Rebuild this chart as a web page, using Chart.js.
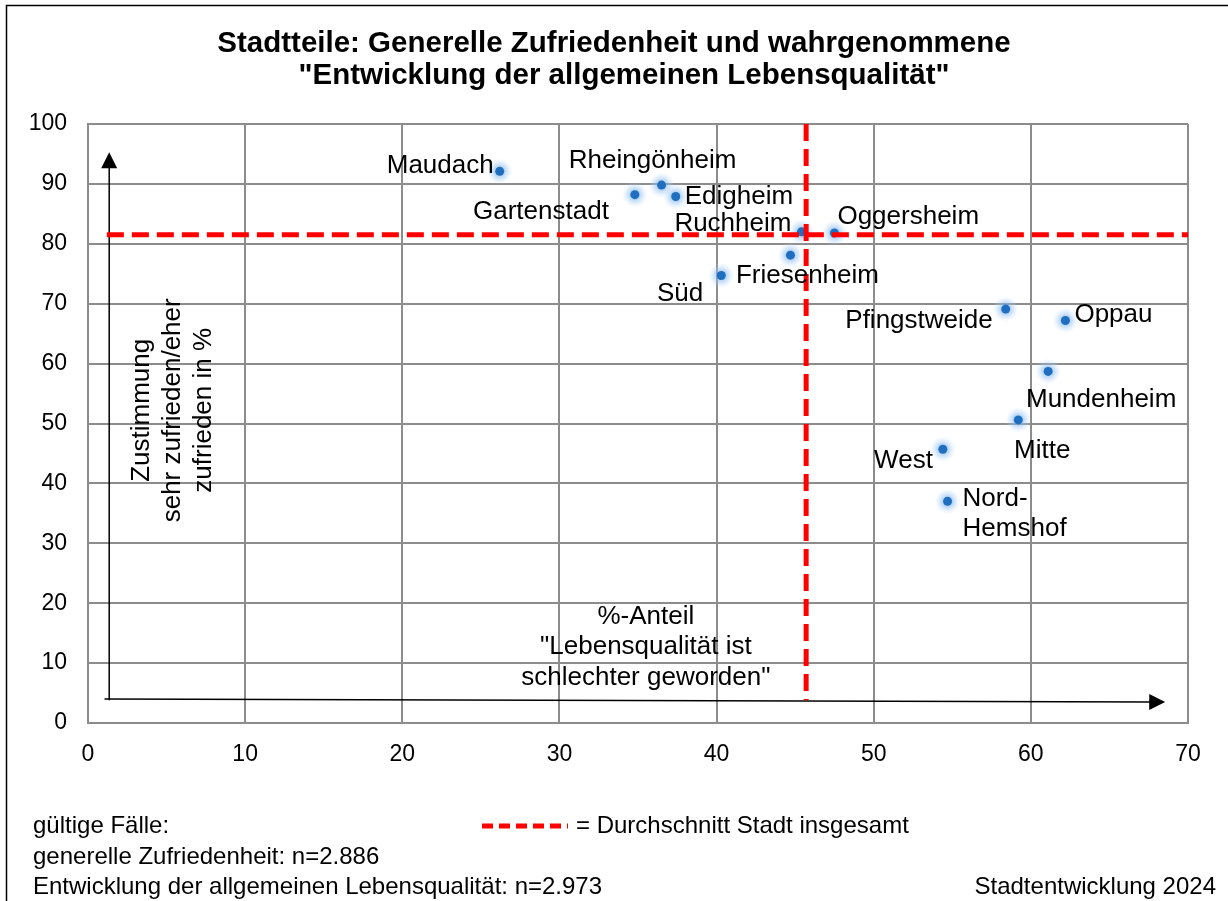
<!DOCTYPE html>
<html lang="de">
<head>
<meta charset="utf-8">
<title>Stadtteile: Generelle Zufriedenheit</title>
<script src="https://cdn.jsdelivr.net/npm/chart.js@4"></script>
<style>
  body { margin: 0; background: #fff; }
  #wrap { width: 1228px; height: 901px; }
</style>
</head>
<body>
<div id="wrap"><canvas id="chart" width="1228" height="901"></canvas></div>
<script>
// Data
const stadtteile = [
  "Maudach",
  "Gartenstadt",
  "Rheingönheim",
  "Edigheim",
  "Ruchheim",
  "Oggersheim",
  "Friesenheim",
  "Süd",
  "Pfingstweide",
  "Oppau",
  "Mundenheim",
  "Mitte",
  "West",
  "Nord-\nHemshof",
];
// %-Anteil "Lebensqualität ist schlechter geworden"
const schlechter = [26.2, 34.8, 36.5, 37.4, 45.4, 47.5, 44.7, 40.3, 58.4, 62.2, 61.1, 59.2, 54.4, 54.7];
// Zustimmung sehr zufrieden/eher zufrieden in %
const zufrieden = [92.1, 88.2, 89.8, 87.9, 82.0, 81.8, 78.1, 74.7, 69.1, 67.2, 58.7, 50.6, 45.7, 37.0];
// Durchschnitt Stadt insgesamt
const avgSchlechter = 45.7;
const avgZufrieden = 81.5;
const xTicks = [0, 10, 20, 30, 40, 50, 60, 70];
const yTicks = [0, 10, 20, 30, 40, 50, 60, 70, 80, 90, 100];

// label placement (pixel offset from the point + alignment)
const labelPlacement = [
  { dx: -6, dy: -5, align: "right" },
  { dx: -26, dy: 17, align: "right" },
  { dx: -9, dy: -24, align: "center" },
  { dx: 9, dy: 0, align: "left" },
  { dx: -10, dy: -8, align: "right" },
  { dx: 3, dy: -16, align: "left" },
  { dx: 17, dy: 21, align: "center" },
  { dx: -18, dy: 18, align: "right" },
  { dx: -13, dy: 12, align: "right" },
  { dx: 9, dy: -6, align: "left" },
  { dx: 53, dy: 28, align: "center" },
  { dx: 24, dy: 31, align: "center" },
  { dx: -10, dy: 12, align: "right" },
  { dx: 15, dy: -3, align: "left" },
];

const FONT = "'Liberation Sans', Arial, sans-serif";
Chart.defaults.font.family = FONT;
Chart.defaults.color = "#000";

const points = schlechter.map((x, i) => ({ x: x, y: zufrieden[i] }));

function arrowHead(ctx, x, y, angle) {
  ctx.save();
  ctx.translate(x, y);
  ctx.rotate(angle);
  ctx.beginPath();
  ctx.moveTo(0, 0);
  ctx.lineTo(-16, -8);
  ctx.lineTo(-16, 8);
  ctx.closePath();
  ctx.fill();
  ctx.restore();
}

const decorations = {
  id: "decorations",
  beforeDatasetsDraw(chart) {
    const { ctx, scales } = chart;
    const X = (v) => scales.x.getPixelForValue(v);
    const Y = (v) => scales.y.getPixelForValue(v);
    ctx.save();
    ctx.strokeStyle = "#000";
    ctx.fillStyle = "#000";
    ctx.lineWidth = 1.5;
    // vertical arrow
    ctx.beginPath();
    ctx.moveTo(X(1.35), Y(3.8));
    ctx.lineTo(X(1.35), Y(94));
    ctx.stroke();
    arrowHead(ctx, X(1.35), Y(95.3), -Math.PI / 2);
    // horizontal arrow
    const x0 = X(1.05), y0 = Y(4.0), x1 = X(68.55), y1 = Y(3.5);
    const ang = Math.atan2(y1 - y0, x1 - x0);
    ctx.beginPath();
    ctx.moveTo(x0, y0);
    ctx.lineTo(x1 - 14 * Math.cos(ang), y1 - 14 * Math.sin(ang));
    ctx.stroke();
    arrowHead(ctx, x1, y1, ang);

    // axis descriptions
    ctx.font = "26px " + FONT;
    ctx.textAlign = "center";
    ctx.textBaseline = "middle";
    const xl = ["%-Anteil", "\"Lebensqualität ist", "schlechter geworden\""];
    xl.forEach((t, i) => ctx.fillText(t, X(35.5), Y(12.7) + (i - 1) * 30.5));
    ctx.save();
    ctx.translate(X(5.4), Y(52.2));
    ctx.rotate(-Math.PI / 2);
    const yl = ["Zustimmung", "sehr zufrieden/eher", "zufrieden in %"];
    yl.forEach((t, i) => ctx.fillText(t, 0, (i - 1) * 31));
    ctx.restore();
    ctx.restore();
  },
  beforeDatasetDraw(chart, args) {
    if (args.index === 2) {
      const ctx = chart.ctx;
      // soft glow behind each point
      chart.getDatasetMeta(2).data.forEach((pt) => {
        const g = ctx.createRadialGradient(pt.x, pt.y, 2, pt.x, pt.y, 13);
        g.addColorStop(0, "rgba(110, 170, 235, 0.75)");
        g.addColorStop(0.45, "rgba(150, 195, 242, 0.45)");
        g.addColorStop(1, "rgba(200, 225, 250, 0)");
        ctx.fillStyle = g;
        ctx.beginPath();
        ctx.arc(pt.x, pt.y, 13, 0, Math.PI * 2);
        ctx.fill();
      });
    }
  },
  afterDatasetsDraw(chart) {
    const { ctx } = chart;
    const meta = chart.getDatasetMeta(2);
    ctx.save();
    ctx.font = "26px " + FONT;
    ctx.fillStyle = "#000";
    ctx.textBaseline = "middle";
    meta.data.forEach((pt, i) => {
      const p = labelPlacement[i];
      ctx.textAlign = p.align;
      stadtteile[i].split("\n").forEach((line, j) => {
        ctx.fillText(line, pt.x + p.dx, pt.y + p.dy + j * 30);
      });
    });
    ctx.restore();
  },
  afterDraw(chart) {
    const { ctx } = chart;
    ctx.save();
    // frame
    ctx.strokeStyle = "#000";
    ctx.lineWidth = 1.5;
    ctx.beginPath();
    ctx.moveTo(6.5, 901);
    ctx.lineTo(6.5, 5.5);
    ctx.lineTo(1228, 5.5);
    ctx.stroke();
    // title
    ctx.fillStyle = "#000";
    ctx.textAlign = "center";
    ctx.textBaseline = "middle";
    ctx.font = "bold 29.5px " + FONT;
    ctx.fillText("Stadtteile: Generelle Zufriedenheit und wahrgenommene", 614, 44);
    ctx.fillText("\"Entwicklung der allgemeinen Lebensqualität\"", 624, 76);
    // footer
    ctx.font = "24px " + FONT;
    ctx.textAlign = "left";
    ctx.fillText("gültige Fälle:", 33, 826);
    ctx.fillText("generelle Zufriedenheit: n=2.886", 33, 857);
    ctx.fillText("Entwicklung der allgemeinen Lebensqualität: n=2.973", 33, 887);
    ctx.fillText("= Durchschnitt Stadt insgesamt", 576, 826);
    ctx.textAlign = "right";
    ctx.fillText("Stadtentwicklung 2024", 1216, 887);
    // legend sample
    ctx.strokeStyle = "#ff0000";
    ctx.lineWidth = 5;
    ctx.setLineDash([11, 6]);
    ctx.beginPath();
    ctx.moveTo(482, 826);
    ctx.lineTo(568, 826);
    ctx.stroke();
    ctx.restore();
  },
};

new Chart(document.getElementById("chart"), {
  type: "scatter",
  data: {
    datasets: [
      {
        label: "Durchschnitt Zufriedenheit",
        data: [
          { x: 1.2, y: avgZufrieden },
          { x: 70, y: avgZufrieden },
        ],
        showLine: true,
        borderColor: "#ff0000",
        borderWidth: 5,
        borderDash: [17, 8],
        pointRadius: 0,
      },
      {
        label: "Durchschnitt Lebensqualität",
        data: [
          { x: avgSchlechter, y: 100 },
          { x: avgSchlechter, y: 3.8 },
        ],
        showLine: true,
        borderColor: "#ff0000",
        borderWidth: 5,
        borderDash: [17, 8],
        pointRadius: 0,
      },
      {
        label: "Stadtteile",
        data: points,
        backgroundColor: "#1f6ec0",
        borderColor: "#1f6ec0",
        borderWidth: 0,
        pointRadius: 4.5,
      },
    ],
  },
  options: {
    responsive: false,
    animation: false,
    events: [],
    layout: { padding: { left: 8, right: 40, top: 124, bottom: 118 } },
    plugins: {
      legend: { display: false },
      tooltip: { enabled: false },
      title: { display: false },
    },
    scales: {
      x: {
        type: "linear",
        min: 0,
        max: 70,
        afterBuildTicks: (scale) => {
          scale.ticks = xTicks.map((v) => ({ value: v }));
        },
        afterFit: (scale) => {
          scale.height = 60;
        },
        grid: { color: "#8c8c8c", lineWidth: 2, drawTicks: false },
        border: { color: "#8c8c8c", width: 2 },
        ticks: { font: { size: 23 }, padding: 18, color: "#000" },
      },
      y: {
        type: "linear",
        min: 0,
        max: 100,
        afterBuildTicks: (scale) => {
          scale.ticks = yTicks.map((v) => ({ value: v }));
        },
        afterFit: (scale) => {
          scale.width = 80;
        },
        grid: { color: "#8c8c8c", lineWidth: 2, drawTicks: false },
        border: { color: "#8c8c8c", width: 2 },
        ticks: { font: { size: 23 }, padding: 21, color: "#000" },
      },
    },
  },
  plugins: [decorations],
});
</script>
</body>
</html>
